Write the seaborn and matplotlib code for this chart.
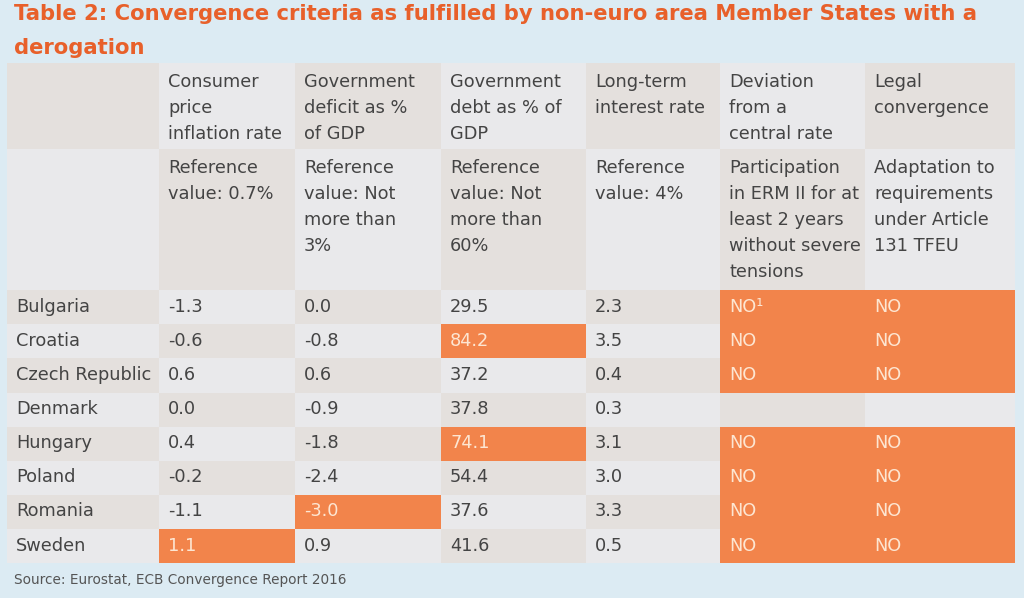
import numpy as np
import matplotlib
matplotlib.use("Agg")
import matplotlib.pyplot as plt
from matplotlib.colors import ListedColormap
import seaborn as sns

# --- data -----------------------------------------------------------------
countries = ["Bulgaria", "Croatia", "Czech Republic", "Denmark",
             "Hungary", "Poland", "Romania", "Sweden"]
inflation = [-1.3, -0.6, 0.6, 0.0, 0.4, -0.2, -1.1, 1.1]
deficit = [0.0, -0.8, 0.6, -0.9, -1.8, -2.4, -3.0, 0.9]
debt = [29.5, 84.2, 37.2, 37.8, 74.1, 54.4, 37.6, 41.6]
long_rate = [2.3, 3.5, 0.4, 0.3, 3.1, 3.0, 3.3, 0.5]
erm = ["NO\u00b9", "NO", "NO", "", "NO", "NO", "NO", "NO"]
legal = ["NO", "NO", "NO", "", "NO", "NO", "NO", "NO"]

criteria = ["", "Consumer\nprice\ninflation rate", "Government\ndeficit as %\nof GDP",
            "Government\ndebt as % of\nGDP", "Long-term\ninterest rate",
            "Deviation\nfrom a\ncentral rate", "Legal\nconvergence"]
references = ["", "Reference\nvalue: 0.7%", "Reference\nvalue: Not\nmore than\n3%",
              "Reference\nvalue: Not\nmore than\n60%", "Reference\nvalue: 4%",
              "Participation\nin ERM II for at\nleast 2 years\nwithout severe\ntensions",
              "Adaptation to\nrequirements\nunder Article\n131 TFEU"]

title_lines = ["Table 2: Convergence criteria as fulfilled by non-euro area Member States with a",
               "derogation"]
source = "Source: Eurostat, ECB Convergence Report 2016"

# --- style ----------------------------------------------------------------
BG = "#dcebf3"
WARM = "#e4e0dd"
LIGHT = "#e9e9eb"
ORANGE = "#f2844b"
TEXT = "#444444"
TEXT_ON_ORANGE = "#fde6d2"
TITLE = "#e8602a"

sns.set_theme(style="white")
plt.rcParams["font.family"] = ["DejaVu Sans"]

# pixel edges of the table grid (columns / rows)
col_edges = [7, 159, 295, 441, 586, 720, 865, 1015]
row_edges = [63, 149, 290, 324, 358, 392.5, 426.5, 460.5, 494.5, 528.5, 563]

# --- build cell table ----------------------------------------------------
n_rows = 2 + len(countries)
n_cols = 7
cells = [[""] * n_cols for _ in range(n_rows)]
flags = np.zeros((n_rows, n_cols), dtype=bool)
for c in range(n_cols):
    cells[0][c] = criteria[c]
    cells[1][c] = references[c]
for i, name in enumerate(countries):
    r = i + 2
    cells[r] = [name, f"{inflation[i]:.1f}", f"{deficit[i]:.1f}", f"{debt[i]:.1f}",
                f"{long_rate[i]:.1f}", erm[i], legal[i]]
    flags[r] = [False, inflation[i] > 0.7, deficit[i] <= -3.0, debt[i] > 60,
                long_rate[i] > 4, erm[i].startswith("NO"), legal[i].startswith("NO")]

# 0 = warm grey, 1 = light grey, 2 = orange (criterion not fulfilled)
codes = np.array([[(r + c) % 2 for c in range(n_cols)] for r in range(n_rows)], dtype=float)
codes[flags] = 2

fig = plt.figure(figsize=(10.24, 5.98), dpi=100, facecolor=BG)
W, H = 1024, 598
ax = fig.add_axes([col_edges[0] / W, 1 - row_edges[-1] / H,
                   (col_edges[-1] - col_edges[0]) / W,
                   (row_edges[-1] - row_edges[0]) / H])

sns.heatmap(codes, ax=ax, cmap=ListedColormap([WARM, LIGHT, ORANGE]),
            vmin=-0.5, vmax=2.5, cbar=False, xticklabels=False, yticklabels=False)

# non-uniform column widths / row heights
xi = np.arange(n_cols + 1)
yi = np.arange(n_rows + 1)
ax.set_xscale("function", functions=(lambda v: np.interp(v, xi, col_edges),
                                     lambda v: np.interp(v, col_edges, xi)))
ax.set_yscale("function", functions=(lambda v: np.interp(v, yi, row_edges),
                                     lambda v: np.interp(v, row_edges, yi)))
ax.set_xlim(0, n_cols)
ax.set_ylim(n_rows, 0)
ax.axis("off")

LINE = 26
for r in range(n_rows):
    for c in range(n_cols):
        txt = cells[r][c]
        if not txt:
            continue
        color = TEXT_ON_ORANGE if flags[r, c] else TEXT
        if r < 2:
            for k, line in enumerate(txt.split("\n")):
                ax.annotate(line, (c, r), xytext=(9, -19 - k * LINE),
                            textcoords="offset pixels", ha="left", va="center",
                            fontsize=12.8, color=color)
        else:
            ax.annotate(txt, (c, r + 0.5), xytext=(9, 0),
                        textcoords="offset pixels", ha="left", va="center",
                        fontsize=12.8, color=color)

for k, line in enumerate(title_lines):
    fig.text(14 / W, 1 - (14 + k * 34) / H, line, ha="left", va="center",
             fontsize=15.2, fontweight="bold", color=TITLE)
fig.text(14 / W, 1 - 580 / H, source, ha="left", va="center", fontsize=9.8,
         color="#555555")

fig.savefig("out.png", dpi=100, facecolor=BG)
